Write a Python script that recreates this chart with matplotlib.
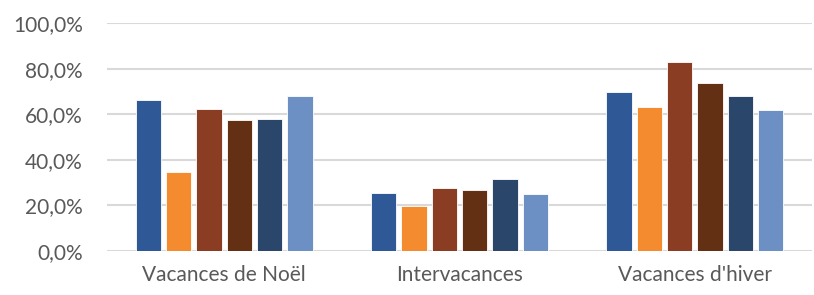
import numpy as np
import matplotlib.pyplot as plt
from matplotlib.ticker import FuncFormatter

# data (percent)
categories = ["Vacances de Noël", "Intervacances", "Vacances d'hiver"]
serie_1 = [66.1, 25.5, 69.9]
serie_2 = [34.8, 19.7, 63.2]
serie_3 = [62.1, 27.5, 82.8]
serie_4 = [57.5, 26.8, 73.6]
serie_5 = [58.1, 31.6, 67.9]
serie_6 = [68.2, 25.2, 62.0]
series = [serie_1, serie_2, serie_3, serie_4, serie_5, serie_6]
colors = ["#2E5896", "#F58B2F", "#8B3D23", "#633013", "#2B466B", "#6C8FC4"]

plt.rcParams['font.family'] = ['Lato', 'DejaVu Sans']

fig = plt.figure(figsize=(8.14, 2.95), dpi=100)
ax = fig.add_axes([0.131, 0.149, 0.867, 0.773])

x = np.arange(len(categories))
slot = 0.129
width = 0.108
for i, vals in enumerate(series):
    ax.bar(x + (i - 2.5) * slot, vals, width, color=colors[i],
           edgecolor="white", linewidth=0.6, zorder=3)

ax.set_xlim(-0.5, 2.5)
ax.set_ylim(0, 100)
ax.set_yticks(np.arange(0, 101, 20))
ax.yaxis.set_major_formatter(FuncFormatter(lambda v, p: f"{v:.1f}%".replace(".", ",")))
ax.set_xticks(x)
ax.set_xticklabels(categories)
ax.grid(axis="y", color="#D9D9D9", linewidth=1.5, zorder=0)
for s in ax.spines.values():
    s.set_visible(False)
ax.tick_params(length=0, labelsize=15, labelcolor="#595959")
ax.tick_params(axis="y", pad=17)
ax.tick_params(axis="x", pad=10)

fig.savefig("out.png", dpi=100)
